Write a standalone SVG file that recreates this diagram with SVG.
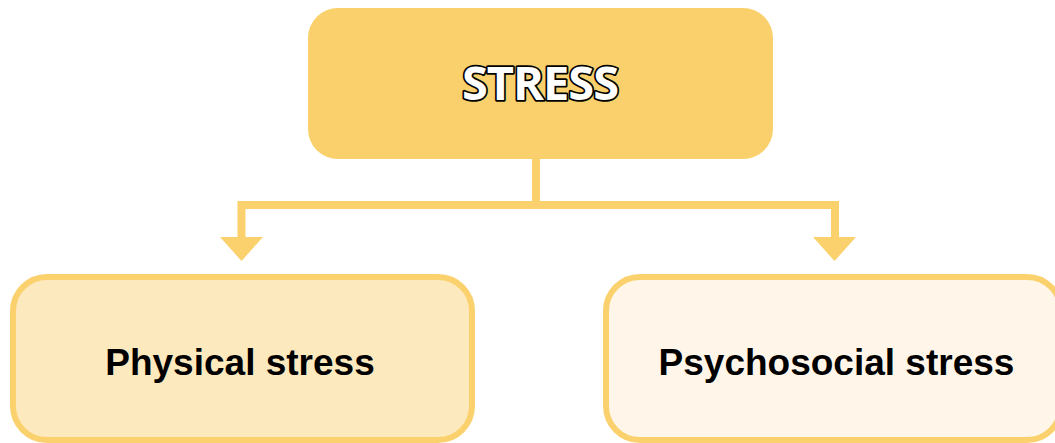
<svg xmlns="http://www.w3.org/2000/svg" width="1055" height="443" viewBox="0 0 1055 443">
  <defs>
    <style>
      .connector { fill: none; stroke: #FAD16D; stroke-width: 8; }
      .arrowhead { fill: #FAD16D; }
      .title { font-family: "Open Sans", "Liberation Sans", sans-serif; font-weight: 700; font-size: 47px; fill: #FFFFFF; stroke: #000000; stroke-width: 3.5; stroke-linejoin: round; paint-order: stroke fill; text-anchor: middle; letter-spacing: -1px; }
      .label { font-family: "Liberation Sans", Arial, sans-serif; font-weight: 700; font-size: 37px; fill: #000000; text-anchor: middle; }
      .child { stroke: #FAD16D; stroke-width: 6; }
    </style>
  </defs>
  <rect width="1055" height="443" fill="#FFFFFF"/>

  <!-- connectors: trunk, branch bar, two drops with arrowheads -->
  <g id="connectors">
    <path class="connector" d="M536 158 V205"/>
    <path class="connector" d="M241.5 237 V205 H835 V237"/>
    <polygon class="arrowhead" points="220,237 263,237 241.5,261"/>
    <polygon class="arrowhead" points="813,237 856,237 834.5,261"/>
  </g>

  <g id="node-stress">
    <rect x="308" y="8" width="465" height="151" rx="30" ry="30" fill="#F9D06B"/>
    <text class="title" x="540" y="100">STRESS</text>
  </g>

  <g id="node-physical">
    <rect class="child" x="13" y="277" width="459" height="163" rx="34" ry="34" fill="#FDE9BE"/>
    <text class="label" x="240" y="375">Physical stress</text>
  </g>

  <g id="node-psychosocial">
    <rect class="child" x="606" y="277" width="455" height="163" rx="34" ry="34" fill="#FFF6E9"/>
    <text class="label" x="836.5" y="375">Psychosocial stress</text>
  </g>
</svg>
